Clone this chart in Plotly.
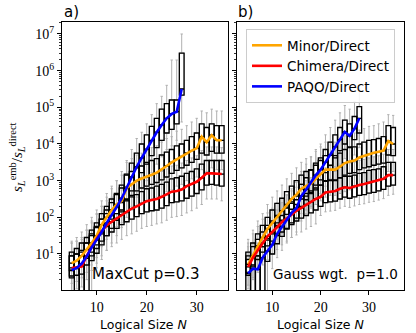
import plotly.graph_objects as go
import numpy as np

# ---------------- data (log10 of s_emb / s_direct) ----------------
N_full = list(range(5, 36))
N_blue_a = list(range(5, 28))
N_blue_b = list(range(5, 29))

# Panel a) MaxCut p=0.3
orange_a_med = [0.75, 0.82, 0.95, 1.12, 1.30, 1.50, 1.80, 2.00, 2.20, 2.35, 2.45, 2.80, 2.90, 3.00, 3.06, 3.10,
                3.16, 3.22, 3.30, 3.40, 3.50, 3.58, 3.66, 3.76, 3.82, 3.88, 4.20, 4.05, 4.24, 4.10, 4.10]
orange_a_q1 = [0.55, 0.60, 0.72, 0.88, 1.05, 1.25, 1.55, 1.75, 1.95, 2.10, 2.20, 2.50, 2.60, 2.72, 2.80, 2.85,
               2.90, 2.95, 3.02, 3.10, 3.20, 3.28, 3.35, 3.42, 3.50, 3.58, 3.75, 3.70, 3.80, 3.75, 3.75]
orange_a_q3 = [1.05, 1.15, 1.30, 1.45, 1.65, 1.85, 2.10, 2.30, 2.50, 2.65, 2.80, 3.15, 3.25, 3.35, 3.40, 3.50,
               3.55, 3.60, 3.70, 3.78, 3.85, 3.95, 4.00, 4.10, 4.20, 4.30, 4.55, 4.45, 4.55, 4.50, 4.50]
orange_a_lo = [0.20, 0.25, 0.35, 0.50, 0.70, 0.90, 1.20, 1.40, 1.60, 1.75, 1.85, 2.10, 2.20, 2.30, 2.40, 2.45,
               2.50, 2.55, 2.60, 2.70, 2.75, 2.85, 2.90, 3.00, 3.05, 3.10, 3.30, 3.25, 3.35, 3.30, 3.30]
orange_a_hi = [1.35, 1.45, 1.60, 1.80, 2.00, 2.20, 2.45, 2.65, 2.85, 3.00, 3.15, 3.50, 3.60, 3.70, 3.75, 3.85,
               3.90, 3.95, 4.05, 4.15, 4.20, 4.35, 4.40, 4.50, 4.60, 4.70, 4.90, 4.85, 4.95, 4.90, 4.90]

red_a_med = [0.62, 0.63, 0.66, 0.95, 1.20, 1.42, 1.62, 1.78, 1.88, 1.97, 2.07, 2.15, 2.24, 2.30, 2.38, 2.44,
             2.47, 2.50, 2.56, 2.62, 2.70, 2.72, 2.76, 2.85, 2.90, 2.97, 3.08, 3.20, 3.20, 3.19, 3.18]
red_a_q1 = [0.40, 0.42, 0.45, 0.70, 0.95, 1.15, 1.35, 1.50, 1.60, 1.70, 1.80, 1.88, 1.95, 2.02, 2.10, 2.15,
            2.18, 2.20, 2.25, 2.32, 2.40, 2.42, 2.45, 2.52, 2.58, 2.65, 2.75, 2.88, 2.90, 2.88, 2.85]
red_a_q3 = [0.95, 1.00, 1.05, 1.30, 1.55, 1.75, 1.95, 2.10, 2.20, 2.30, 2.40, 2.48, 2.56, 2.62, 2.70, 2.78,
            2.80, 2.85, 2.90, 2.96, 3.05, 3.08, 3.12, 3.20, 3.25, 3.32, 3.45, 3.55, 3.55, 3.55, 3.55]
red_a_lo = [0.00, 0.05, 0.10, 0.30, 0.55, 0.75, 0.95, 1.10, 1.20, 1.30, 1.40, 1.50, 1.55, 1.62, 1.70, 1.75,
            1.78, 1.82, 1.85, 1.92, 2.00, 2.02, 2.05, 2.12, 2.18, 2.25, 2.35, 2.50, 2.50, 2.50, 2.45]
red_a_hi = [1.30, 1.35, 1.40, 1.65, 1.90, 2.10, 2.30, 2.45, 2.55, 2.65, 2.75, 2.85, 2.92, 3.00, 3.05, 3.12,
            3.15, 3.20, 3.25, 3.32, 3.40, 3.42, 3.48, 3.55, 3.62, 3.68, 3.82, 3.92, 3.92, 3.92, 3.90]

blue_a_med = [0.56, 0.62, 0.74, 0.93, 1.18, 1.38, 1.60, 1.85, 2.05, 2.28, 2.52, 2.82, 3.10, 3.38, 3.62, 3.86,
              4.10, 4.32, 4.52, 4.70, 4.82, 4.88, 5.50]
blue_a_q1 = [0.35, -0.70, -0.60, -0.40, 0.82, 1.02, 1.25, 1.50, 1.70, 1.92, 2.15, 2.45, 2.72, 3.00, 3.22, 3.45,
             3.68, 3.90, 4.10, 4.30, 4.40, 4.55, 5.33]
blue_a_q3 = [0.95, 1.00, 1.10, 1.30, 1.50, 1.72, 1.95, 2.20, 2.40, 2.62, 2.88, 3.18, 3.48, 3.75, 4.00, 4.25,
             4.48, 4.70, 4.95, 5.10, 5.20, 5.20, 6.48]
blue_a_lo = [0.00, -1.50, -1.50, -1.50, -1.20, 0.62, 0.85, 1.10, 1.30, 1.50, 1.72, 2.00, 2.30, 2.55, 2.80, 3.00,
             3.22, 3.45, 3.65, 3.85, 3.95, 4.10, 4.60]
blue_a_hi = [1.30, 1.35, 1.45, 1.65, 1.85, 2.08, 2.30, 2.55, 2.78, 3.00, 3.25, 3.55, 3.85, 4.15, 4.32, 4.55,
             4.80, 5.10, 5.30, 5.60, 6.29, 6.29, 7.00]

# Panel b) Gauss wgt. p=1.0
orange_b_med = [0.72, 0.95, 1.22, 1.45, 1.68, 1.85, 2.02, 2.18, 2.35, 2.50, 2.62, 2.78, 2.86, 2.92, 3.05, 3.18,
                3.30, 3.30, 3.30, 3.38, 3.48, 3.52, 3.55, 3.63, 3.68, 3.72, 3.76, 3.79, 3.82, 4.08, 4.00]
orange_b_q1 = [0.50, 0.70, 0.95, 1.20, 1.42, 1.60, 1.78, 1.92, 2.08, 2.22, 2.35, 2.50, 2.58, 2.65, 2.75, 2.88,
               2.98, 3.00, 3.00, 3.08, 3.15, 3.20, 3.22, 3.30, 3.35, 3.38, 3.42, 3.45, 3.48, 3.70, 3.68]
orange_b_q3 = [1.05, 1.30, 1.55, 1.78, 2.00, 2.20, 2.38, 2.52, 2.70, 2.85, 3.00, 3.15, 3.25, 3.30, 3.42, 3.55,
               3.68, 3.70, 3.68, 3.75, 3.85, 3.90, 3.92, 4.00, 4.05, 4.10, 4.12, 4.15, 4.20, 4.50, 4.45]
orange_b_lo = [0.15, 0.35, 0.60, 0.85, 1.05, 1.25, 1.40, 1.55, 1.70, 1.85, 1.95, 2.10, 2.20, 2.25, 2.35, 2.45,
               2.55, 2.60, 2.60, 2.65, 2.70, 2.75, 2.80, 2.85, 2.90, 2.95, 3.00, 3.02, 3.05, 3.25, 3.25]
orange_b_hi = [1.40, 1.65, 1.90, 2.10, 2.35, 2.55, 2.72, 2.88, 3.05, 3.20, 3.35, 3.50, 3.60, 3.65, 3.80, 3.92,
               4.05, 4.05, 4.05, 4.12, 4.22, 4.28, 4.30, 4.38, 4.42, 4.48, 4.50, 4.55, 4.60, 4.80, 4.78]

red_b_med = [0.65, 0.90, 1.10, 1.30, 1.48, 1.60, 1.75, 1.87, 1.97, 2.08, 2.18, 2.26, 2.35, 2.42, 2.50, 2.56,
             2.68, 2.70, 2.72, 2.78, 2.82, 2.80, 2.85, 2.88, 2.91, 2.95, 2.98, 3.01, 3.05, 3.15, 3.15]
red_b_q1 = [0.42, 0.65, 0.85, 1.05, 1.22, 1.35, 1.50, 1.60, 1.70, 1.80, 1.90, 1.98, 2.05, 2.12, 2.20, 2.30,
            2.40, 2.42, 2.44, 2.50, 2.55, 2.52, 2.56, 2.60, 2.62, 2.66, 2.68, 2.72, 2.76, 2.85, 2.88]
red_b_q3 = [0.95, 1.20, 1.40, 1.60, 1.78, 1.90, 2.05, 2.18, 2.28, 2.38, 2.48, 2.58, 2.65, 2.72, 2.80, 2.88,
            3.00, 3.02, 3.02, 3.08, 3.12, 3.12, 3.15, 3.20, 3.22, 3.28, 3.30, 3.32, 3.38, 3.50, 3.50]
red_b_lo = [0.05, 0.30, 0.50, 0.70, 0.85, 1.00, 1.12, 1.25, 1.35, 1.45, 1.52, 1.60, 1.68, 1.75, 1.82, 2.05,
            2.15, 2.17, 2.19, 2.25, 2.30, 2.27, 2.31, 2.35, 2.37, 2.41, 2.43, 2.47, 2.51, 2.60, 2.63]
red_b_hi = [1.30, 1.55, 1.75, 1.95, 2.12, 2.25, 2.40, 2.52, 2.62, 2.72, 2.82, 2.92, 3.00, 3.08, 3.15, 3.22,
            3.35, 3.38, 3.38, 3.42, 3.48, 3.48, 3.50, 3.55, 3.58, 3.62, 3.65, 3.68, 3.72, 3.85, 3.85]

blue_b_med = [0.47, 0.60, 0.58, 0.90, 1.08, 1.25, 1.55, 1.75, 1.95, 2.12, 2.25, 2.58, 2.76, 2.95, 3.15, 3.30,
              3.50, 3.70, 3.92, 4.12, 4.33, 4.22, 4.42, 4.70]
blue_b_q1 = [-0.60, -0.70, -0.80, -0.50, 0.80, 1.00, 1.28, 1.48, 1.68, 1.85, 1.98, 2.30, 2.48, 2.68, 2.88, 3.02,
             3.22, 3.42, 3.62, 3.82, 4.00, 3.92, 4.12, 4.30]
blue_b_q3 = [0.85, 0.95, 0.95, 1.20, 1.38, 1.55, 1.85, 2.05, 2.25, 2.42, 2.58, 2.90, 3.08, 3.28, 3.48, 3.62,
             3.85, 4.05, 4.25, 4.45, 4.65, 4.55, 4.75, 5.02]
blue_b_lo = [-1.50, -1.50, -1.50, -1.50, -1.20, 0.60, 0.90, 1.10, 1.30, 1.45, 1.60, 1.90, 2.10, 2.30, 2.50, 2.65,
             2.85, 3.05, 3.25, 3.45, 3.60, 3.55, 3.70, 3.90]
blue_b_hi = [1.20, 1.30, 1.30, 1.55, 1.72, 1.90, 2.20, 2.40, 2.60, 2.78, 2.95, 3.25, 3.45, 3.65, 3.85, 4.00,
             4.25, 4.45, 4.65, 4.85, 5.05, 4.95, 5.15, 5.50]

series_names = ["Minor/Direct", "Chimera/Direct", "PAQO/Direct"]
series_colors = ["#FFA500", "#FF0000", "#0000FF"]
ytick_exponents = [1, 2, 3, 4, 5, 6, 7]
xtick_values = [10, 20, 30]

panels = [
    ("x", "y", [
        (N_full, orange_a_med, orange_a_q1, orange_a_q3, orange_a_lo, orange_a_hi),
        (N_full, red_a_med, red_a_q1, red_a_q3, red_a_lo, red_a_hi),
        (N_blue_a, blue_a_med, blue_a_q1, blue_a_q3, blue_a_lo, blue_a_hi),
    ]),
    ("x2", "y2", [
        (N_full, orange_b_med, orange_b_q1, orange_b_q3, orange_b_lo, orange_b_hi),
        (N_full, red_b_med, red_b_q1, red_b_q3, red_b_lo, red_b_hi),
        (N_blue_b, blue_b_med, blue_b_q1, blue_b_q3, blue_b_lo, blue_b_hi),
    ]),
]

def p10(a):
    return (10.0 ** np.array(a)).tolist()

fig = go.Figure()
for pi, (xa, ya, sers) in enumerate(panels):
    for si, (N, med, q1, q3, lo, hi) in enumerate(sers):
        fig.add_trace(go.Box(x=N, q1=p10(q1), median=p10(med), q3=p10(q3),
                             lowerfence=p10(lo), upperfence=p10(hi),
                             width=0.95, whiskerwidth=0.5, boxpoints=False,
                             line=dict(color="#b0b0b0", width=1),
                             fillcolor="rgba(0,0,0,0)",
                             xaxis=xa, yaxis=ya, showlegend=False, hoverinfo="skip"))
    for si, (N, med, q1, q3, lo, hi) in enumerate(sers):
        fig.add_trace(go.Box(x=N, q1=p10(q1), median=p10(med), q3=p10(q3),
                             lowerfence=p10(q1), upperfence=p10(q3),
                             width=0.95, whiskerwidth=0, boxpoints=False,
                             line=dict(color="black", width=1.3),
                             fillcolor="rgba(0,0,0,0)",
                             xaxis=xa, yaxis=ya, showlegend=False, hoverinfo="skip"))
    for si, (N, med, q1, q3, lo, hi) in enumerate(sers):
        fig.add_trace(go.Scatter(x=N, y=p10(med), mode="lines",
                                 line=dict(color=series_colors[si], width=2.6),
                                 name=series_names[si],
                                 showlegend=(pi == 1), xaxis=xa, yaxis=ya))

minor_vals = [m * 10.0 ** e for e in range(0, 8) for m in range(2, 10)]
tickfont_serif = dict(family="Liberation Serif", size=14, color="black")
yaxis_common = dict(type="log", range=[0.018, 7.327], domain=[1 - 290 / 333, 1 - 22 / 333],
                    tickvals=[10.0 ** e for e in ytick_exponents],
                    ticks="outside", ticklen=4, tickwidth=1, tickcolor="black",
                    showline=True, linecolor="black", linewidth=1, mirror=True,
                    showgrid=False, zeroline=False, tickfont=tickfont_serif,
                    minor=dict(tickvals=minor_vals, ticks="outside", ticklen=2,
                               tickcolor="black", tickwidth=0.8, showgrid=False))
xaxis_common = dict(tickvals=xtick_values, ticks="outside", ticklen=4, tickwidth=1,
                    tickcolor="black", showline=True, linecolor="black", linewidth=1,
                    mirror=True, showgrid=False, zeroline=False, tickfont=tickfont_serif)

fig.update_layout(
    width=416, height=333, margin=dict(l=0, r=0, t=0, b=0),
    paper_bgcolor="white", plot_bgcolor="white", boxmode="overlay",
    font=dict(family="DejaVu Sans", color="black"),
    xaxis=dict(domain=[62 / 416, 228 / 416], range=[3.06, 36.26], **xaxis_common),
    xaxis2=dict(domain=[237 / 416, 404 / 416], range=[2.7, 37.24], anchor="y2", **xaxis_common),
    yaxis=dict(ticktext=["10<sup>%d</sup>" % e for e in ytick_exponents], **yaxis_common),
    yaxis2=dict(anchor="x2", matches="y", showticklabels=False, **yaxis_common),
    legend=dict(x=246 / 416, y=1 - 29 / 333, xanchor="left", yanchor="top",
                bgcolor="rgba(255,255,255,0.85)", bordercolor="#cccccc", borderwidth=1,
                font=dict(family="DejaVu Sans", size=13.5), itemwidth=30),
    annotations=[
        dict(text="a)", xref="paper", yref="paper", x=62 / 416, y=1 - 12 / 333, xanchor="left",
             yanchor="middle", showarrow=False, font=dict(size=15)),
        dict(text="b)", xref="paper", yref="paper", x=236 / 416, y=1 - 12 / 333, xanchor="left",
             yanchor="middle", showarrow=False, font=dict(size=15)),
        dict(text="MaxCut p=0.3", xref="paper", yref="paper", x=202 / 416, y=1 - 274 / 333,
             xanchor="right", yanchor="middle", showarrow=False, font=dict(size=15)),
        dict(text="Gauss wgt.  p=1.0", xref="paper", yref="paper", x=400 / 416, y=1 - 274 / 333,
             xanchor="right", yanchor="middle", showarrow=False, font=dict(size=13.5)),
        dict(text="Logical Size <i>N</i>", xref="paper", yref="paper", x=143 / 416, y=1 - 324 / 333,
             xanchor="center", yanchor="middle", showarrow=False, font=dict(size=12.5)),
        dict(text="Logical Size <i>N</i>", xref="paper", yref="paper", x=320 / 416, y=1 - 324 / 333,
             xanchor="center", yanchor="middle", showarrow=False, font=dict(size=12.5)),
        dict(text="<i>s</i><sub><i>L</i></sub><sup>emb</sup>/<i>s</i><sub><i>L</i></sub><sup>direct</sup>",
             xref="paper", yref="paper", x=17 / 416, y=1 - 157 / 333, xanchor="center", yanchor="middle",
             textangle=-90, showarrow=False, font=dict(family="Liberation Serif", size=15)),
    ],
)

fig.write_html("out.html", config={"displayModeBar": False, "staticPlot": True},
               post_script="document.body.style.margin='0px';document.body.style.overflow='hidden';")
